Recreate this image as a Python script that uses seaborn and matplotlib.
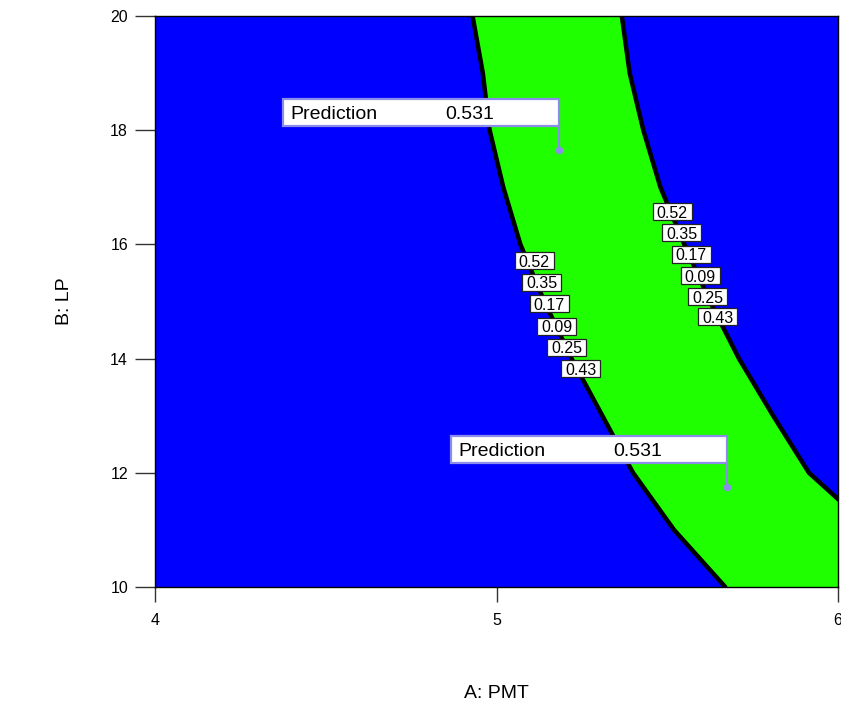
import matplotlib
matplotlib.use("Agg")
import matplotlib.pyplot as plt
from matplotlib.patches import Rectangle
import numpy as np
import pandas as pd
import seaborn as sns

# boundary of the green (desirable) region
lp_levels = [10, 11, 12, 13, 14, 15, 16, 17, 18, 19, 20]
pmt_left = [5.67, 5.52, 5.40, 5.31, 5.22, 5.14, 5.07, 5.02, 4.98, 4.96, 4.93]
pmt_right = [6.29, 6.10, 5.915, 5.81, 5.71, 5.625, 5.55, 5.48, 5.43, 5.39, 5.367]

# contour labels stacked on each boundary
contour_values = ["0.52", "0.35", "0.17", "0.09", "0.25", "0.43"]
left_lab_x = [5.110, 5.133, 5.154, 5.177, 5.206, 5.247]
left_lab_y = [15.71, 15.34, 14.96, 14.57, 14.20, 13.82]
right_lab_x = [5.514, 5.543, 5.570, 5.596, 5.619, 5.648]
right_lab_y = [16.57, 16.20, 15.83, 15.45, 15.08, 14.73]

# prediction flags
pred_x = [5.183, 5.675]
pred_y = [17.65, 11.75]
pred_val = [0.531, 0.531]

sns.set_theme(style="white")
plt.rcParams['font.family'] = ['Liberation Sans', 'DejaVu Sans']

BLUE = "#0000ff"
GREEN = "#20ff00"
FLAG = "#8c8ceb"

fig = plt.figure(figsize=(8.41, 7.04), dpi=100)
ax = fig.add_axes([155 / 841, 1 - 587 / 704, 683 / 841, 571 / 704])
ax.set_facecolor(BLUE)

# green band
ax.fill_betweenx(lp_levels, pmt_left, pmt_right, color=GREEN, lw=0, zorder=1)

# boundary lines
bnd = pd.DataFrame({
    "LP": lp_levels * 2,
    "PMT": pmt_left + pmt_right,
    "side": ["left"] * len(lp_levels) + ["right"] * len(lp_levels),
})
sns.lineplot(data=bnd, x="PMT", y="LP", units="side", estimator=None,
             orient="y", sort=True, color="black", lw=3.2, ax=ax, zorder=2)

# contour labels
bw, bh = 39 / 341.5, 17 / 57.1
for xs, ys in [(left_lab_x, left_lab_y), (right_lab_x, right_lab_y)]:
    for v, cx, cy in zip(contour_values, xs, ys):
        ax.add_patch(Rectangle((cx - bw / 2, cy - bh / 2), bw, bh, facecolor="white",
                               edgecolor="#222222", lw=0.9, zorder=4))
        ax.text(cx, cy, v, ha="center", va="center_baseline", fontsize=11.5,
                color="black", zorder=5)

# prediction flags
fw, fh = 276 / 341.5, 27 / 57.1
gap = 24 / 57.1
for px, py, val in zip(pred_x, pred_y, pred_val):
    x0, y0 = px - fw, py + gap
    ax.add_patch(Rectangle((x0, y0), fw, fh, facecolor="white", edgecolor=FLAG,
                           lw=1.6, zorder=6))
    ax.plot([px, px], [py, y0], color=FLAG, lw=1.6, zorder=6)
    ax.plot(px, py, "o", color=FLAG, ms=4.5, zorder=7)
    ax.text(x0 + 7 / 341.5, y0 + fh / 2, "Prediction", ha="left", va="center_baseline",
            fontsize=14, color="black", zorder=8)
    ax.text(x0 + 162 / 341.5, y0 + fh / 2, f"{val:.3f}", ha="left", va="center_baseline",
            fontsize=14, color="black", zorder=8)

ax.set_xlim(4, 6)
ax.set_ylim(10, 20)
ax.set_xticks([4, 5, 6])
ax.set_yticks([10, 12, 14, 16, 18, 20])
ax.tick_params(axis="y", left=True, length=14.4, width=1, color="#333333",
               labelsize=11.5, pad=5, labelcolor="black")
ax.tick_params(axis="x", bottom=True, length=10.8, width=1, color="#333333",
               labelsize=11.5, pad=8, labelcolor="black")
for s in ax.spines.values():
    s.set_color("black")
    s.set_linewidth(1)
    s.set_zorder(9)

ax.set_xlabel("A: PMT", fontsize=14, color="black")
ax.set_ylabel("B: LP", fontsize=14, color="black")
ax.xaxis.set_label_coords(0.5, -0.172)
ax.yaxis.set_label_coords(-0.12, 0.5)
ax.grid(False)

fig.savefig("out.png", dpi=100)
